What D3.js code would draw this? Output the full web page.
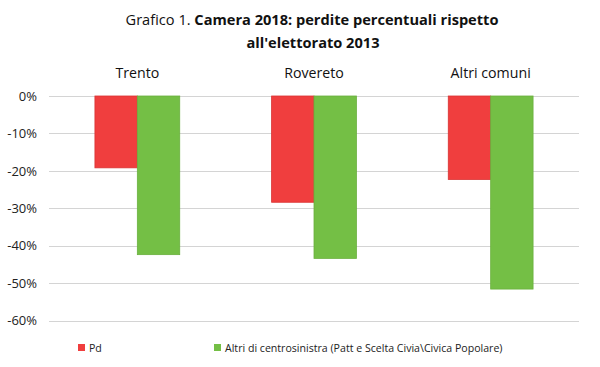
<!DOCTYPE html>
<html>
<head>
<meta charset="utf-8">
<script src="https://cdn.jsdelivr.net/npm/d3@7"></script>
<style>
	body { margin: 0; background: #fff; }
	svg { display: block; font-family: "Open Sans", "Liberation Sans", sans-serif; }
</style>
</head>
<body>
<div id="chart"></div>
<script>
/* Grafico 1 - perdite percentuali rispetto all'elettorato 2013 */

var categories = ['Trento', 'Rovereto', 'Altri comuni'],
	seriesNames = ['Pd', 'Altri di centrosinistra (Patt e Scelta Civia\\Civica Popolare)'],
	pdValues = [-19.2, -28.4, -22.3],
	altriValues = [-42.4, -43.4, -51.6],
	yTicks = [0, -10, -20, -30, -40, -50, -60];

var width = 600,
	height = 367,
	margin = {top: 96, left: 49, right: 21, bottom: 46};

var colors = ['#F03E3E', '#74BF45'],
	strokes = ['#D93333', '#6AB03E'];

var svg = d3.select('#chart').append('svg')
	.attr('width', width)
	.attr('height', height);

// title, first part normal and the rest bold
var title = svg.append('text')
	.attr('x', 312)
	.attr('y', 25)
	.attr('text-anchor', 'middle')
	.attr('font-size', 14.6)
	.attr('fill', '#111');
title.append('tspan').text('Grafico 1. ');
title.append('tspan').attr('font-weight', 'bold').text('Camera 2018: perdite percentuali rispetto');
svg.append('text')
	.attr('x', 313)
	.attr('y', 48)
	.attr('text-anchor', 'middle')
	.attr('font-size', 14.6)
	.attr('font-weight', 'bold')
	.attr('fill', '#111')
	.text("all'elettorato 2013");

var x = d3.scaleBand()
	.domain(categories)
	.range([margin.left, width - margin.right])
	.paddingInner(0.52)
	.paddingOuter(0.26);

var y = d3.scaleLinear()
	.domain([0, -60])
	.range([margin.top, height - margin.bottom - 0.5]);

// gridlines
svg.append('g')
	.selectAll('line')
	.data(yTicks)
	.enter().append('line')
		.attr('x1', margin.left)
		.attr('x2', width - margin.right)
		.attr('y1', function(d) { return Math.round(y(d)) + 0.5; })
		.attr('y2', function(d) { return Math.round(y(d)) + 0.5; })
		.attr('stroke', '#d4d4d4')
		.attr('stroke-width', 1.2);

// y axis labels
var yAxis = svg.append('g')
	.attr('transform', 'translate(' + margin.left + ',0)')
	.call(d3.axisLeft(y)
		.tickValues(yTicks)
		.tickSize(0)
		.tickPadding(12)
		.tickFormat(function(d) { return d + '%'; }));
yAxis.select('.domain').remove();
yAxis.selectAll('text')
	.attr('font-family', '"Open Sans", "Liberation Sans", sans-serif')
	.attr('font-size', 13)
	.attr('fill', '#222');

// category labels above the groups
svg.append('g')
	.selectAll('text')
	.data(categories)
	.enter().append('text')
		.attr('x', function(d) { return x(d) + x.bandwidth() / 2; })
		.attr('y', 78)
		.attr('text-anchor', 'middle')
		.attr('font-size', 14.2)
		.attr('fill', '#111')
		.text(function(d) { return d; });

var xInner = d3.scaleBand()
	.domain([0, 1])
	.range([0, x.bandwidth()]);

var series = [pdValues, altriValues];

series.forEach(function(values, s) {
	svg.append('g')
		.selectAll('rect')
		.data(values)
		.enter().append('rect')
			.attr('x', function(d, i) { return x(categories[i]) + xInner(s); })
			.attr('y', y(0))
			.attr('width', xInner.bandwidth())
			.attr('height', function(d) { return y(d) - y(0); })
			.attr('fill', colors[s])
			.attr('stroke', strokes[s])
			.attr('stroke-width', 0.8);
});

// legend
var legendX = [78, 214];
var legend = svg.append('g')
	.selectAll('g')
	.data(seriesNames)
	.enter().append('g')
		.attr('transform', function(d, i) { return 'translate(' + legendX[i] + ',344)'; });
legend.append('rect')
	.attr('width', 7)
	.attr('height', 7)
	.attr('fill', function(d, i) { return colors[i]; });
legend.append('text')
	.attr('x', 11)
	.attr('y', 7.5)
	.attr('font-size', 10.6)
	.attr('fill', '#222')
	.text(function(d) { return d; });
</script>
</body>
</html>
